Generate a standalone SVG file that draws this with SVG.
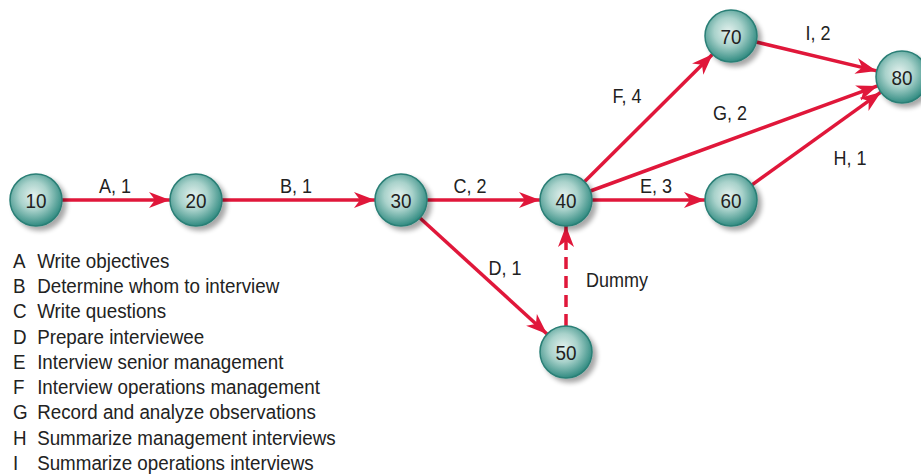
<svg xmlns="http://www.w3.org/2000/svg" width="921" height="476" viewBox="0 0 921 476">
<defs>
<radialGradient id="ball" cx="0.45" cy="0.42" r="0.6">
<stop offset="0" stop-color="#e4f1ee"/>
<stop offset="0.45" stop-color="#a9d2cb"/>
<stop offset="1" stop-color="#2a877d"/>
</radialGradient>
<filter id="sh" x="-30%" y="-30%" width="170%" height="170%">
<feGaussianBlur in="SourceAlpha" stdDeviation="2.5"/>
<feOffset dx="4" dy="4" result="b"/>
<feComponentTransfer><feFuncA type="linear" slope="0.35"/></feComponentTransfer>
<feMerge><feMergeNode/><feMergeNode in="SourceGraphic"/></feMerge>
</filter>
<marker id="ah" markerUnits="userSpaceOnUse" markerWidth="24" markerHeight="18" refX="21" refY="8" orient="auto">
<path d="M0,0 L21,8 L0,16 L6,8 Z" fill="#e0173a"/>
</marker>
</defs>
<style>
.e{stroke:#e0173a;stroke-width:3.5;fill:none;marker-end:url(#ah)}
.d{stroke-dasharray:12 7}
.n{fill:url(#ball);stroke:#2a7f76;stroke-width:1.5;filter:url(#sh)}
.t{font-family:"Liberation Sans",Arial,sans-serif;font-size:21px;fill:#222}
.l{font-family:"Liberation Sans",Arial,sans-serif;font-size:20px;fill:#222}
.g{font-family:"Liberation Sans",Arial,sans-serif;font-size:21px;fill:#222}
</style>
<g id="connectors">
<line class="e" x1="62" y1="200" x2="170" y2="200"/>
<line class="e" x1="222" y1="200" x2="375" y2="200"/>
<line class="e" x1="427" y1="200" x2="540" y2="200"/>
<line class="e" x1="592" y1="200" x2="705" y2="200"/>
<line class="e" x1="420" y1="218" x2="547" y2="334"/>
<line class="e d" x1="566" y1="326" x2="566" y2="226"/>
<line class="e" x1="584.4" y1="181.7" x2="712.6" y2="54.3"/>
<line class="e" x1="590.4" y1="191" x2="877.6" y2="85.9"/>
<line class="e" x1="752" y1="184.8" x2="880.9" y2="92.2"/>
<line class="e" x1="756.3" y1="42" x2="876.7" y2="70.9"/>
<g class="l" text-anchor="middle">
<text transform="translate(115,193) scale(0.9,1)">A, 1</text>
<text transform="translate(296,193) scale(0.9,1)">B, 1</text>
<text transform="translate(470,193) scale(0.9,1)">C, 2</text>
<text transform="translate(656,193) scale(0.9,1)">E, 3</text>
<text transform="translate(505,275) scale(0.9,1)">D, 1</text>
<text transform="translate(617,287) scale(0.9,1)">Dummy</text>
<text transform="translate(627,103) scale(0.9,1)">F, 4</text>
<text transform="translate(730,120) scale(0.9,1)">G, 2</text>
<text transform="translate(850,165) scale(0.9,1)">H, 1</text>
<text transform="translate(818,40) scale(0.9,1)">I, 2</text>
</g>
</g>
<g id="n10"><circle class="n" cx="36" cy="200" r="26"/><text class="t" text-anchor="middle" transform="translate(36,207.5) scale(0.9,1)">10</text></g>
<g id="n20"><circle class="n" cx="196" cy="200" r="26"/><text class="t" text-anchor="middle" transform="translate(196,207.5) scale(0.9,1)">20</text></g>
<g id="n30"><circle class="n" cx="401" cy="200" r="26"/><text class="t" text-anchor="middle" transform="translate(401,207.5) scale(0.9,1)">30</text></g>
<g id="n40"><circle class="n" cx="566" cy="200" r="26"/><text class="t" text-anchor="middle" transform="translate(566,207.5) scale(0.9,1)">40</text></g>
<g id="n50"><circle class="n" cx="566" cy="352" r="26"/><text class="t" text-anchor="middle" transform="translate(566,359.5) scale(0.9,1)">50</text></g>
<g id="n60"><circle class="n" cx="731" cy="200" r="26"/><text class="t" text-anchor="middle" transform="translate(731,207.5) scale(0.9,1)">60</text></g>
<g id="n70"><circle class="n" cx="731" cy="36" r="26"/><text class="t" text-anchor="middle" transform="translate(731,43.5) scale(0.9,1)">70</text></g>
<g id="n80"><circle class="n" cx="902" cy="77" r="26"/><text class="t" text-anchor="middle" transform="translate(902,84.5) scale(0.9,1)">80</text></g>
<g id="legend" class="g">
<g transform="translate(13,0) scale(0.895,1)">
<text x="0" y="268">A</text><text x="27" y="268">Write objectives</text>
<text x="0" y="293.3">B</text><text x="27" y="293.3">Determine whom to interview</text>
<text x="0" y="318.5">C</text><text x="27" y="318.5">Write questions</text>
<text x="0" y="343.8">D</text><text x="27" y="343.8">Prepare interviewee</text>
<text x="0" y="369">E</text><text x="27" y="369">Interview senior management</text>
<text x="0" y="394.3">F</text><text x="27" y="394.3">Interview operations management</text>
<text x="0" y="419.5">G</text><text x="27" y="419.5">Record and analyze observations</text>
<text x="0" y="444.8">H</text><text x="27" y="444.8">Summarize management interviews</text>
<text x="0" y="470">I</text><text x="27" y="470">Summarize operations interviews</text>
</g>
</g>
</svg>
